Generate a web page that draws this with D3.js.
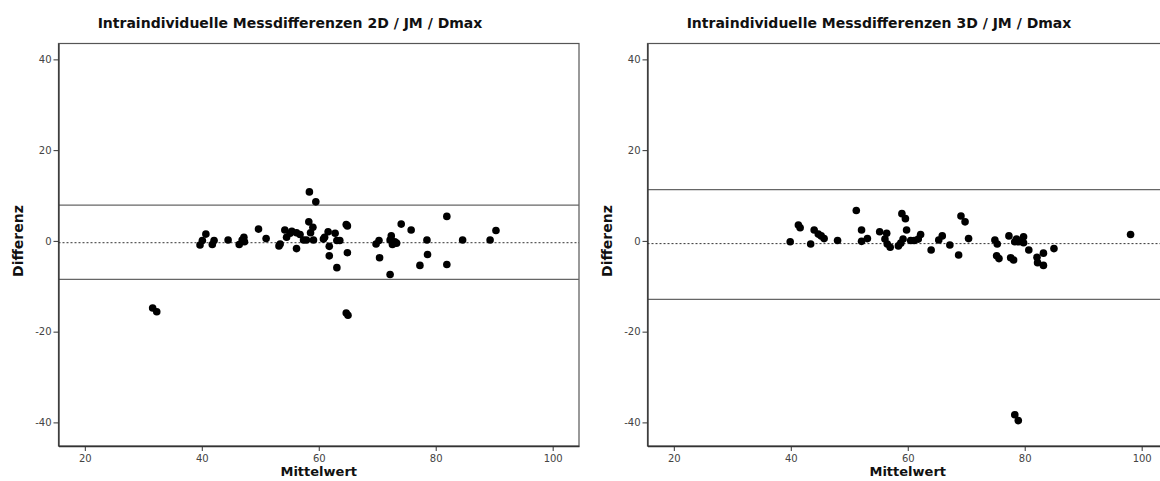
<!DOCTYPE html>
<html>
<head>
<meta charset="utf-8">
<script src="https://cdn.jsdelivr.net/npm/d3@7"></script>
<style>
  body { margin: 0; background: #fff; }
  svg text { font-family: "DejaVu Sans", sans-serif; }
  .tick text { fill: #444; font-size: 10px; }
  .title { font-size: 14px; font-weight: bold; fill: #111; }
  .axlabel { font-size: 13px; font-weight: bold; fill: #111; }
</style>
</head>
<body>
<svg id="chart" width="1160" height="481"></svg>
<script>
var titles = ["Intraindividuelle Messdifferenzen 2D / JM / Dmax",
              "Intraindividuelle Messdifferenzen 3D / JM / Dmax"];
var xTicks = [20, 40, 60, 80, 100];
var yTicks = [-40, -20, 0, 20, 40];

// 2D: Mittelwert / Differenz
var mean2D = [31.6, 32.3, 39.7, 40.1, 40.7, 41.8, 42.1, 44.5, 46.4, 46.9, 47.2, 47.3,
  49.7, 51.0, 53.2, 53.4, 54.2, 54.5, 55.1, 55.4, 56.2, 56.2, 56.8, 57.4, 57.9,
  58.3, 58.4, 58.6, 59.0, 59.1, 59.5, 60.8, 61.0, 61.6, 61.8, 61.8, 62.8, 63.1,
  63.1, 63.6, 64.7, 64.9, 64.9, 64.7, 65.0, 69.8, 70.3, 70.4, 72.2, 72.4, 72.2,
  72.6, 73.0, 73.3, 74.1, 75.8, 77.3, 78.5, 78.6, 81.9, 81.9, 84.6, 89.3, 90.3];
var diff2D = [-14.8, -15.6, -0.9, 0.1, 1.5, -0.8, 0.1, 0.2, -0.8, 0.2, 0.8, -0.2,
  2.6, 0.5, -1.1, -0.7, 2.4, 0.8, 1.7, 2.1, -1.7, 1.8, 1.4, 0.2, 0.2,
  4.2, 10.8, 1.8, 3.0, 0.2, 8.6, 0.4, 0.8, 2.0, -1.2, -3.3, 1.7, 0.1,
  -5.9, 0.1, 3.6, 3.3, -2.6, -15.9, -16.4, -0.7, 0.1, -3.7, 0.2, 1.1, -7.4,
  -0.8, -0.2, -0.5, 3.7, 2.4, -5.4, 0.2, -3.0, 5.4, -5.2, 0.2, 0.2, 2.3];
var lines2D = {upper: 7.9, mean: -0.4, lower: -8.5};

// 3D: Mittelwert / Differenz
var mean3D = [39.9, 41.3, 41.6, 43.4, 44.0, 44.7, 45.2, 45.7, 48.0, 51.2, 52.1, 52.1,
  53.1, 55.2, 56.1, 56.4, 56.5, 57.0, 58.4, 58.8, 59.0, 59.2, 59.6, 59.8, 60.5,
  61.1, 61.8, 62.2, 64.0, 65.3, 65.9, 67.2, 68.7, 69.1, 69.8, 70.4, 74.9, 75.3,
  75.2, 75.6, 77.3, 77.6, 78.1, 78.3, 78.6, 79.0, 79.8, 79.8, 80.7, 82.1, 82.2,
  83.2, 83.2, 85.0, 98.1, 78.3, 78.9];
var diff3D = [-0.2, 3.5, 2.9, -0.7, 2.4, 1.5, 1.1, 0.5, 0.1, 6.7, 2.4, -0.1,
  0.5, 2.0, 0.4, 1.7, -0.7, -1.4, -1.1, -0.5, 6.0, 0.4, 4.9, 2.4, 0.1,
  0.1, 0.4, 1.4, -2.0, 0.2, 1.1, -0.9, -3.1, 5.5, 4.2, 0.5, 0.2, -0.7,
  -3.3, -3.9, 1.1, -3.7, -4.2, -0.2, 0.4, -0.2, 0.9, -0.4, -2.0, -3.6, -4.8,
  -2.7, -5.4, -1.7, 1.4, -38.3, -39.6];
var lines3D = {upper: 11.3, mean: -0.6, lower: -12.9};

var svg = d3.select("#chart");

function drawPanel(offsetX, title, xs, ys, lines) {
  var left = offsetX + 58.5, right = offsetX + 579;
  var top = 43.5, bottom = 446;
  var x = d3.scaleLinear().domain([15.5, 104.5]).range([left, right]);
  var y = d3.scaleLinear().domain([-45.2, 43.5]).range([bottom, top]);
  var g = svg.append("g");

  g.append("text").attr("class", "title")
    .attr("x", offsetX + 290).attr("y", 28)
    .attr("text-anchor", "middle").text(title);

  // frame
  g.append("rect")
    .attr("x", left).attr("y", top)
    .attr("width", right - left).attr("height", bottom - top)
    .attr("fill", "none").attr("stroke", "#555").attr("stroke-width", 1.2);

  // reference lines
  [lines.upper, lines.lower].forEach(function(v) {
    g.append("line")
      .attr("x1", left).attr("x2", right)
      .attr("y1", y(v)).attr("y2", y(v))
      .attr("stroke", "#666").attr("stroke-width", 1.3);
  });
  g.append("line")
    .attr("x1", left).attr("x2", right)
    .attr("y1", y(lines.mean)).attr("y2", y(lines.mean))
    .attr("stroke", "#333").attr("stroke-width", 1)
    .attr("stroke-dasharray", "2,2");

  var fmt = function(d) { return String(d); };
  var xAxis = g.append("g")
    .attr("transform", "translate(0," + bottom + ")")
    .call(d3.axisBottom(x).tickValues(xTicks).tickFormat(fmt)
      .tickSize(5).tickSizeOuter(0).tickPadding(4));
  var yAxis = g.append("g")
    .attr("transform", "translate(" + left + ",0)")
    .call(d3.axisLeft(y).tickValues(yTicks).tickFormat(fmt)
      .tickSize(5).tickSizeOuter(0).tickPadding(2));
  [xAxis, yAxis].forEach(function(a) {
    a.select(".domain").attr("stroke", "#333").attr("stroke-width", 1.3);
    a.selectAll(".tick line").attr("stroke", "#333");
  });

  g.selectAll("circle.pt").data(xs)
    .enter().append("circle")
    .attr("class", "pt")
    .attr("cx", function(d) { return x(d); })
    .attr("cy", function(d, i) { return y(ys[i]); })
    .attr("r", 3.8)
    .attr("fill", "#000");

  g.append("text").attr("class", "axlabel")
    .attr("x", (left + right) / 2).attr("y", 476)
    .attr("text-anchor", "middle").text("Mittelwert");

  g.append("text").attr("class", "axlabel")
    .style("font-size", "14px")
    .attr("transform", "translate(" + (offsetX + 23) + "," + 241 + ") rotate(-90)")
    .attr("text-anchor", "middle").text("Differenz");
}

drawPanel(0, titles[0], mean2D, diff2D, lines2D);
drawPanel(589, titles[1], mean3D, diff3D, lines3D);
</script>
</body>
</html>
